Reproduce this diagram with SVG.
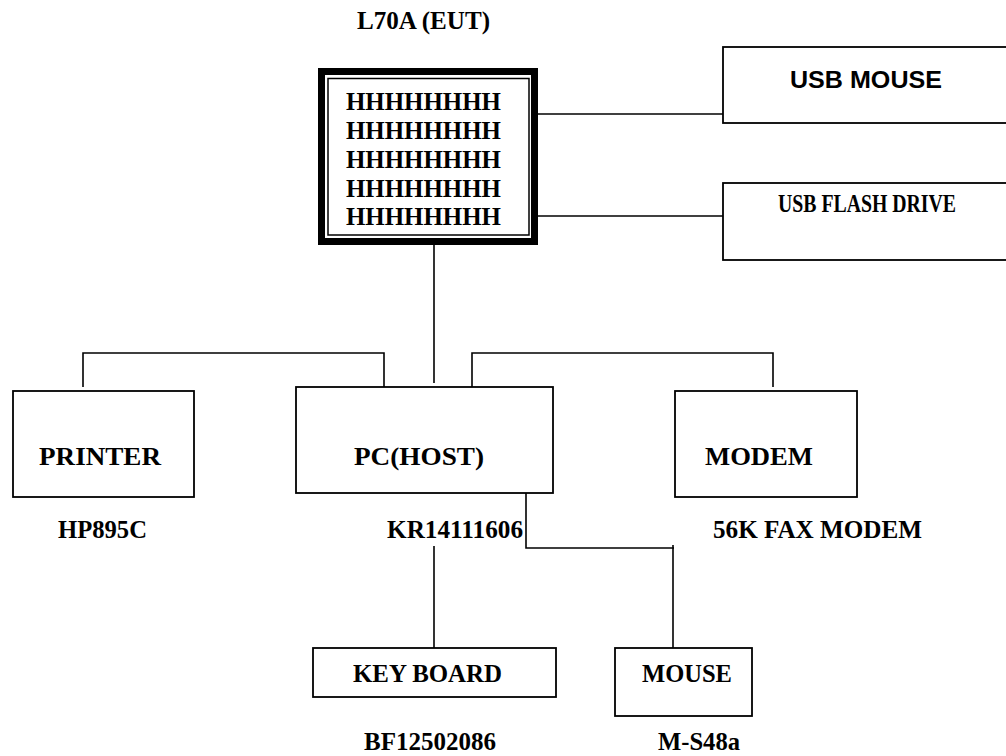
<svg xmlns="http://www.w3.org/2000/svg" width="1006" height="756" viewBox="0 0 1006 756">
<style>
.box{fill:#fff;stroke:#000;stroke-width:1.8}
.ln{fill:none;stroke:#000;stroke-width:1.6}
.t{font-family:"Liberation Serif","Times New Roman",serif;font-weight:bold;font-size:25px;fill:#000}
.s{font-family:"Liberation Sans",Arial,sans-serif;font-weight:bold;font-size:23px;fill:#000}
</style>
<rect width="1006" height="756" fill="#fff"/>
<g id="connectors">
<line class="ln" x1="538" y1="114" x2="723" y2="114"/>
<line class="ln" x1="538" y1="216" x2="723" y2="216"/>
<line class="ln" x1="434" y1="245" x2="434" y2="383"/>
<polyline class="ln" points="83,387 83,353 384,353 384,387"/>
<polyline class="ln" points="472,387 472,353 773,353 773,387"/>
<polyline class="ln" points="526,490 526,548 674,548"/>
<line class="ln" x1="673" y1="545" x2="673" y2="648"/>
<line class="ln" x1="434" y1="546" x2="434" y2="648"/>
</g>
<g id="eut">
<text class="t" x="357" y="29" font-size="22" textLength="133" lengthAdjust="spacingAndGlyphs">L70A (EUT)</text>
<rect x="321.5" y="71.5" width="213" height="170" fill="#fff" stroke="#000" stroke-width="7"/>
<rect x="328" y="78.5" width="201" height="156.5" fill="none" stroke="#000" stroke-width="1.5"/>
<text class="t" x="346" y="110" textLength="155" lengthAdjust="spacingAndGlyphs">HHHHHHHH</text>
<text class="t" x="346" y="139" textLength="155" lengthAdjust="spacingAndGlyphs">HHHHHHHH</text>
<text class="t" x="346" y="168" textLength="155" lengthAdjust="spacingAndGlyphs">HHHHHHHH</text>
<text class="t" x="346" y="197" textLength="155" lengthAdjust="spacingAndGlyphs">HHHHHHHH</text>
<text class="t" x="346" y="225" textLength="155" lengthAdjust="spacingAndGlyphs">HHHHHHHH</text>
</g>
<g id="usb-mouse">
<rect class="box" x="723" y="47" width="300" height="76"/>
<text class="s" x="790" y="88" textLength="152" lengthAdjust="spacingAndGlyphs">USB MOUSE</text>
</g>
<g id="usb-flash">
<rect class="box" x="723" y="183" width="300" height="77"/>
<text class="t" x="778" y="212" font-size="18" textLength="178" lengthAdjust="spacingAndGlyphs">USB FLASH DRIVE</text>
</g>
<g id="printer">
<rect class="box" x="13" y="391" width="181" height="106"/>
<text class="t" x="39" y="465" textLength="122" lengthAdjust="spacingAndGlyphs">PRINTER</text>
<text class="t" x="58" y="538" textLength="89" lengthAdjust="spacingAndGlyphs">HP895C</text>
</g>
<g id="pc">
<rect class="box" x="296" y="387" width="257" height="106"/>
<text class="t" x="354" y="465" textLength="130" lengthAdjust="spacingAndGlyphs">PC(HOST)</text>
<text class="t" x="387" y="538" textLength="136" lengthAdjust="spacingAndGlyphs">KR14111606</text>
</g>
<g id="modem">
<rect class="box" x="675" y="391" width="182" height="106"/>
<text class="t" x="705" y="465" textLength="108" lengthAdjust="spacingAndGlyphs">MODEM</text>
<text class="t" x="713" y="538" textLength="209" lengthAdjust="spacingAndGlyphs">56K FAX MODEM</text>
</g>
<g id="keyboard">
<rect class="box" x="313" y="648" width="243" height="49"/>
<text class="t" x="353" y="682" textLength="149" lengthAdjust="spacingAndGlyphs">KEY BOARD</text>
<text class="t" x="364" y="750" font-size="24" textLength="132" lengthAdjust="spacingAndGlyphs">BF12502086</text>
</g>
<g id="mouse">
<rect class="box" x="615" y="648" width="137" height="68"/>
<text class="t" x="642" y="682" textLength="90" lengthAdjust="spacingAndGlyphs">MOUSE</text>
<text class="t" x="658" y="750" font-size="24" textLength="82" lengthAdjust="spacingAndGlyphs">M-S48a</text>
</g>
</svg>
